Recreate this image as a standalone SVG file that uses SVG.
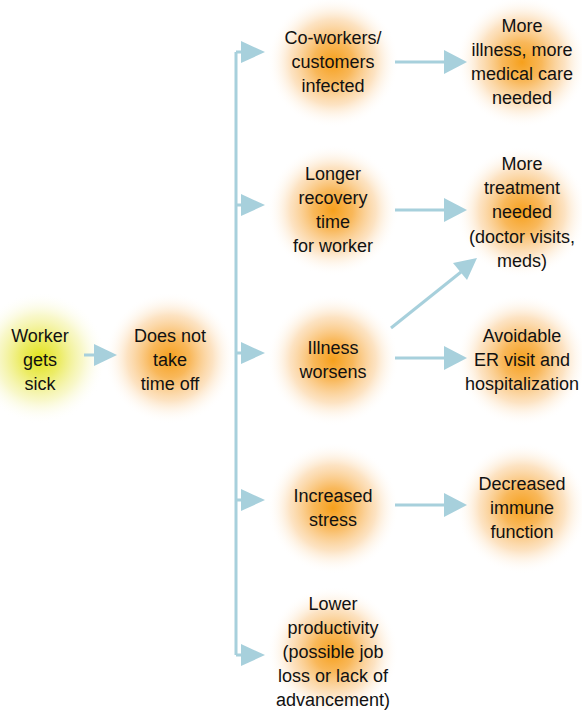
<svg xmlns="http://www.w3.org/2000/svg" width="582" height="710" viewBox="0 0 582 710">
<defs>
<radialGradient id="og">
<stop offset="0" stop-color="#f6a01c"/>
<stop offset="0.3" stop-color="#f8b048" stop-opacity="0.9"/>
<stop offset="0.65" stop-color="#fbd09a" stop-opacity="0.6"/>
<stop offset="1" stop-color="#ffffff" stop-opacity="0"/>
</radialGradient>
<radialGradient id="yg">
<stop offset="0" stop-color="#e2e21a"/>
<stop offset="0.3" stop-color="#eaea55" stop-opacity="0.9"/>
<stop offset="0.65" stop-color="#f4f3a8" stop-opacity="0.6"/>
<stop offset="1" stop-color="#ffffff" stop-opacity="0"/>
</radialGradient>
<style>
text{font-family:"Liberation Sans",Arial,sans-serif;font-size:18px;fill:#111111;text-anchor:middle}
.c{stroke:#a7d0dc;stroke-width:3;fill:none}
.h{fill:#a7d0dc}
</style>
</defs>
<rect width="582" height="710" fill="#ffffff"/>
<g id="n1"><circle cx="40" cy="358" r="66" fill="url(#yg)"/>
<text x="40" y="342">Worker</text><text x="40" y="366">gets</text><text x="40" y="390">sick</text></g>
<g id="n2"><circle cx="170" cy="358" r="66" fill="url(#og)"/>
<text x="170" y="342">Does not</text><text x="170" y="366">take</text><text x="170" y="390">time off</text></g>
<g id="n3"><circle cx="333" cy="62" r="66" fill="url(#og)"/>
<text x="333" y="44">Co-workers/</text><text x="333" y="68">customers</text><text x="333" y="92">infected</text></g>
<g id="n4"><circle cx="522" cy="62" r="66" fill="url(#og)"/>
<text x="522" y="32">More</text><text x="522" y="56">illness, more</text><text x="522" y="80">medical care</text><text x="522" y="104">needed</text></g>
<g id="n5"><circle cx="333" cy="210" r="66" fill="url(#og)"/>
<text x="333" y="180">Longer</text><text x="333" y="204">recovery</text><text x="333" y="228">time</text><text x="333" y="252">for worker</text></g>
<g id="n6"><circle cx="522" cy="212" r="66" fill="url(#og)"/>
<text x="522" y="170">More</text><text x="522" y="194">treatment</text><text x="522" y="218">needed</text><text x="522" y="243">(doctor visits,</text><text x="522" y="267">meds)</text></g>
<g id="n7"><circle cx="333" cy="360" r="66" fill="url(#og)"/>
<text x="333" y="354">Illness</text><text x="333" y="378">worsens</text></g>
<g id="n8"><circle cx="522" cy="360" r="66" fill="url(#og)"/>
<text x="522" y="342">Avoidable</text><text x="522" y="366">ER visit and</text><text x="522" y="390">hospitalization</text></g>
<g id="n9"><circle cx="333" cy="508" r="66" fill="url(#og)"/>
<text x="333" y="502">Increased</text><text x="333" y="526">stress</text></g>
<g id="n10"><circle cx="522" cy="508" r="66" fill="url(#og)"/>
<text x="522" y="490">Decreased</text><text x="522" y="514">immune</text><text x="522" y="538">function</text></g>
<g id="n11"><circle cx="333" cy="652" r="66" fill="url(#og)"/>
<text x="333" y="610">Lower</text><text x="333" y="634">productivity</text><text x="333" y="658">(possible job</text><text x="333" y="682">loss or lack of</text><text x="333" y="706">advancement)</text></g>
<g id="connectors">
<path class="c" d="M236,52 V655"/>
<path class="c" d="M236,52 H244 M236,205 H244 M236,353 H244 M236,500 H244 M236,655 H244"/>
<polygon class="h" points="241,41 265,52 241,63"/>
<polygon class="h" points="241,194 265,205 241,216"/>
<polygon class="h" points="241,342 265,353 241,364"/>
<polygon class="h" points="241,489 265,500 241,511"/>
<polygon class="h" points="241,644 265,655 241,666"/>
<path class="c" d="M84,355 H96"/>
<polygon class="h" points="94,344 117,355 94,366"/>
<path class="c" d="M395,62 H446 M395,210 H446 M395,358 H446 M395,505 H446"/>
<polygon class="h" points="444,50 467,62 444,74"/>
<polygon class="h" points="444,198 467,210 444,222"/>
<polygon class="h" points="444,346 467,358 444,370"/>
<polygon class="h" points="444,493 467,505 444,517"/>
<path class="c" d="M391,328 L461,272"/>
<polygon class="h" points="453,263 477,258 467,280"/>
</g>
</svg>
